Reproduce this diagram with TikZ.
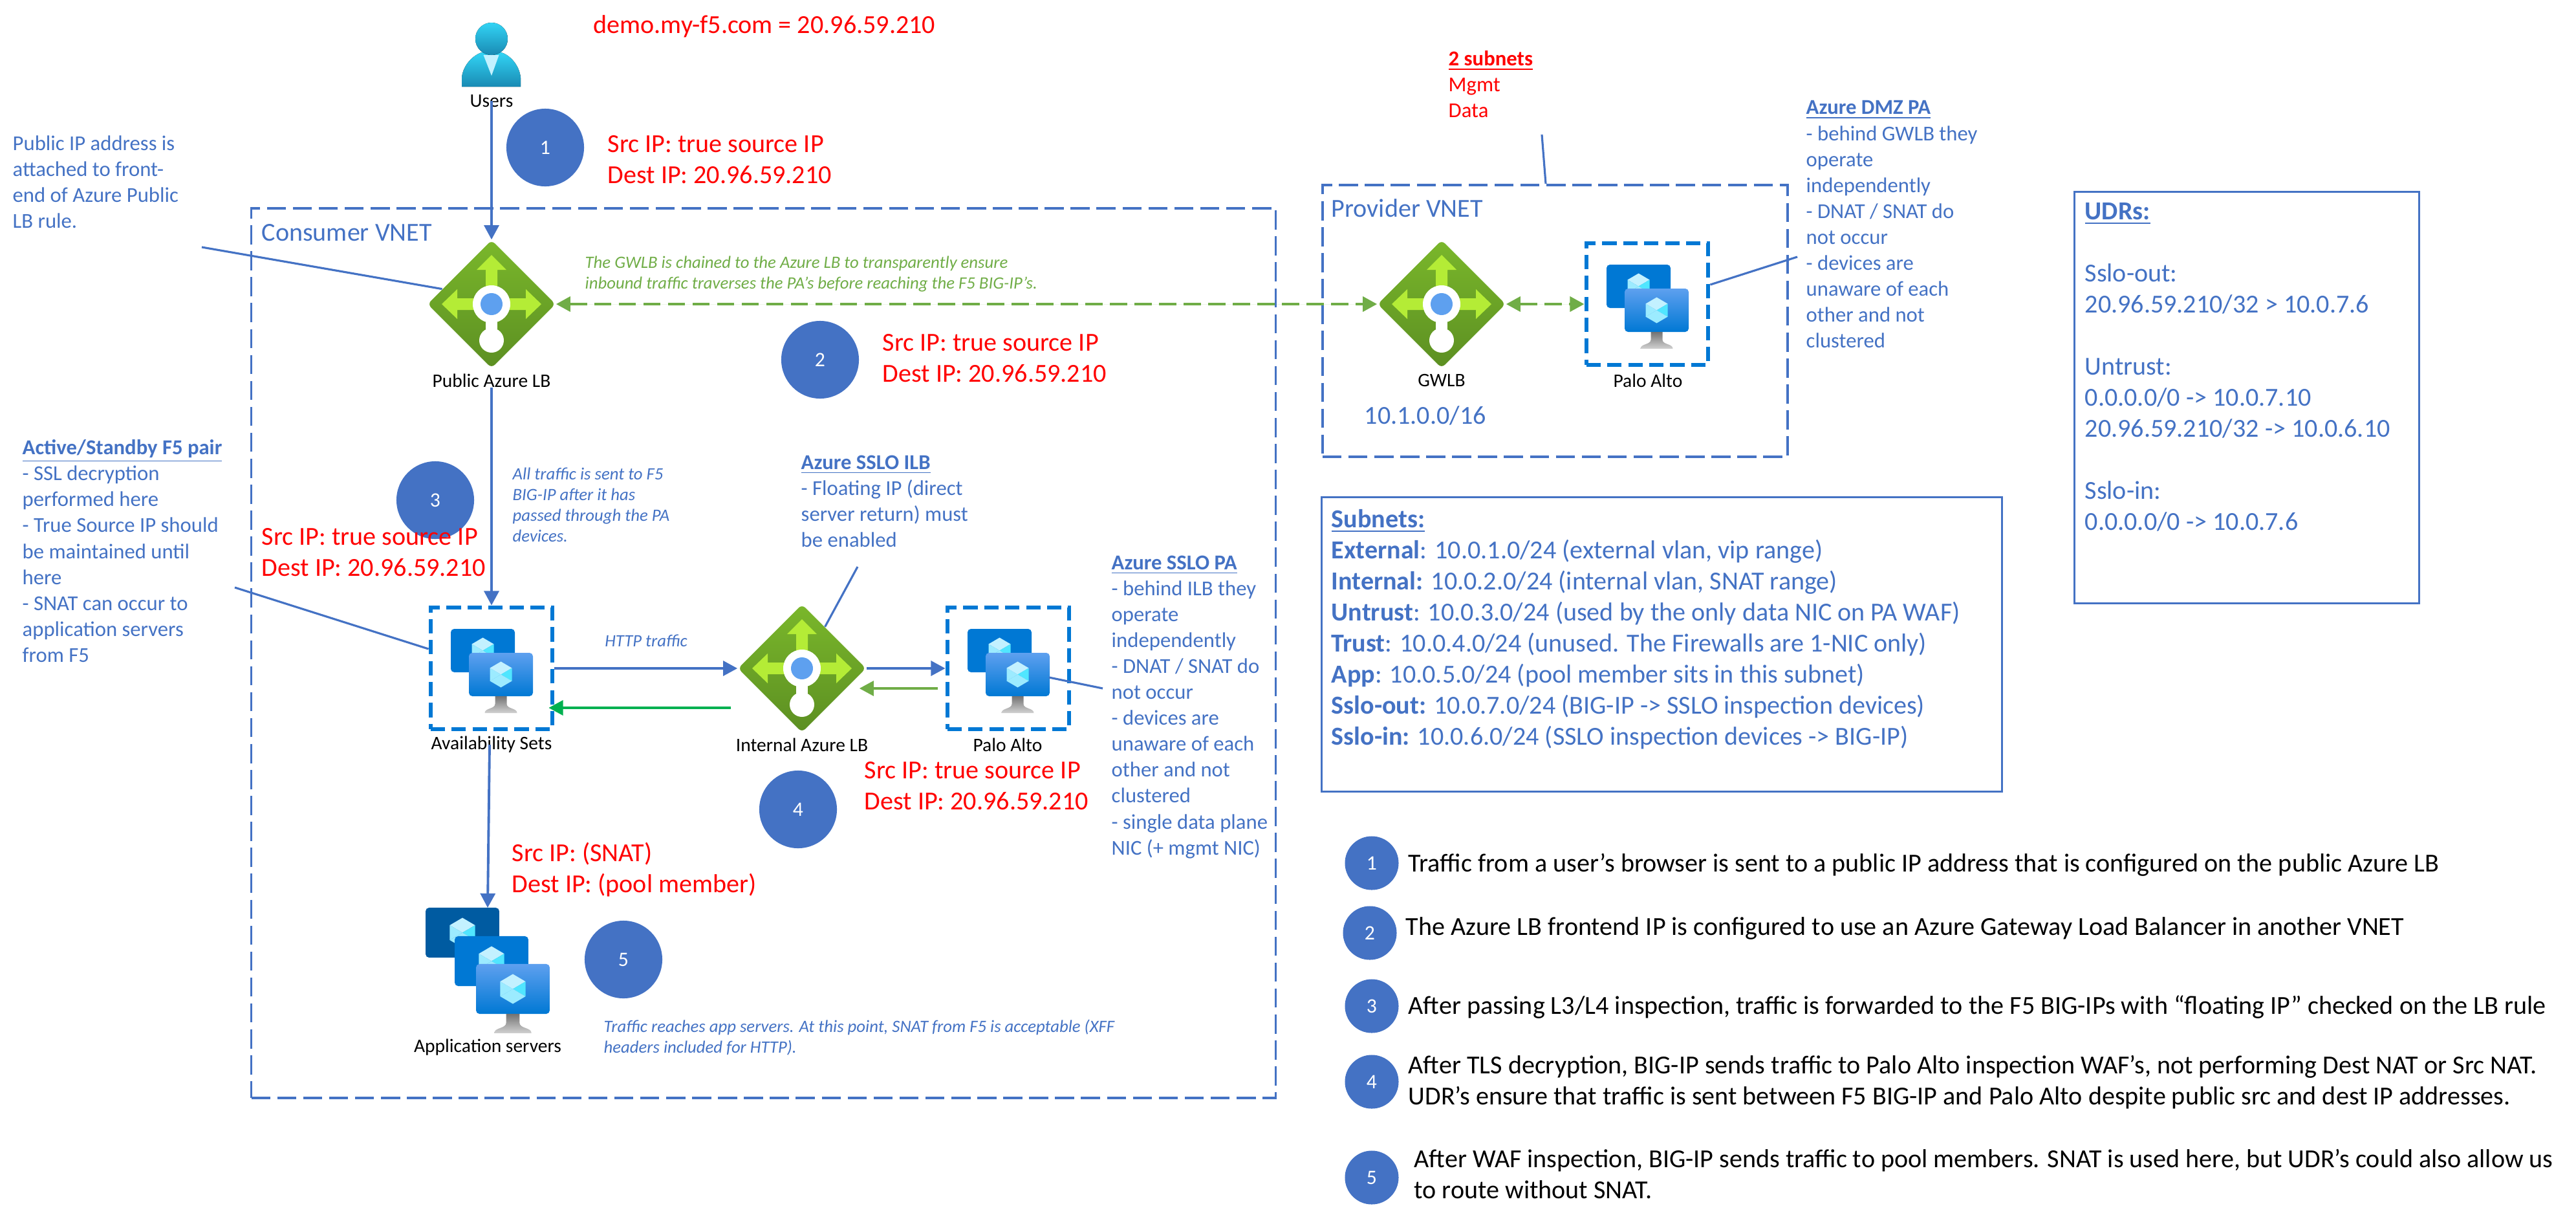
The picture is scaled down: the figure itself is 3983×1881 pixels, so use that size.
\documentclass[tikz,border=0pt]{standalone}
\usepackage{fontspec}
\setmainfont{Carlito}
\usetikzlibrary{arrows.meta,shapes.geometric}
\begin{document}
\begin{tikzpicture}[x=0.01cm,y=-0.01cm,>={Triangle[length=6.3pt,width=6.5pt]}]
  \definecolor{bar}{HTML}{4472C4}
  \definecolor{azure}{HTML}{0078D4}
  \definecolor{azuredeep}{HTML}{005BA1}
  \definecolor{azuresoft}{HTML}{5EA0EF}
  \definecolor{lbleaf}{HTML}{B4EC36}
  \definecolor{lbtop}{HTML}{7AB72B}
  \definecolor{lbbottom}{HTML}{5C8F22}
  \definecolor{leaf}{HTML}{70AD47}
  \definecolor{signal}{HTML}{00B050}
  \definecolor{gemlight}{HTML}{C3F1FF}
  \definecolor{gemmid}{HTML}{9CEBFF}
  \definecolor{gemdeep}{HTML}{50E6FF}
  \definecolor{usertop}{HTML}{32D4F5}
  \definecolor{userbottom}{HTML}{198AB3}
  \tikzset{
    bigfont/.style={font=\fontsize{11.4}{13.65}\selectfont},
    notefont/.style={font=\fontsize{9.3}{11.4}\selectfont},
    tinyfont/.style={font=\fontsize{7.6}{9.1}\selectfont\itshape},
    plaintext/.style={anchor=north west,inner sep=0pt,align=left,execute at begin node=\strut},
    redtext/.style={plaintext,bigfont,text=red},
    legendtext/.style={plaintext,bigfont,text=black},
    bluetext/.style={plaintext,bigfont,text=bar},
    notetext/.style={plaintext,notefont,text=bar},
    italictext/.style={plaintext,tinyfont,text=bar},
    iconlabel/.style={inner sep=0pt,font=\fontsize{8.4}{10}\selectfont,text=black},
    vnetbox/.style={draw=bar,line width=1.1pt,dash pattern=on 8.4pt off 3pt},
    vmbox/.style={draw=azure,line width=1.9pt,dash pattern=on 6.3pt off 2.9pt,minimum width=1.88cm,minimum height=1.88cm,inner sep=0pt},
    infobox/.style={draw=bar,line width=0.9pt,inner sep=0pt},
    lbshape/.style={diamond,aspect=1,inner sep=0pt,minimum width=1.98cm,minimum height=1.98cm,rounded corners=2pt,top color=lbtop,bottom color=lbbottom},
    stepdot/.style={circle,fill=bar,text=white,inner sep=0pt,minimum size=1.2cm,font=\fontsize{9}{11}\selectfont},
    legenddot/.style={stepdot,minimum size=0.83cm},
    calloutline/.style={draw=bar,line width=0.9pt},
    flow/.style={->,draw=bar,fill=bar,line width=1.1pt},
    backflow/.style={->,draw=leaf,fill=leaf,line width=1.1pt},
    gwlink/.style={<->,draw=leaf,fill=leaf,line width=1.3pt,dash pattern=on 7.6pt off 3.2pt},
    lbglyph/.pic={
      \fill[lbleaf] (-9,0) -- (-9,-53) -- (-23,-53) -- (0,-76) -- (23,-53) -- (9,-53) -- (9,0) -- cycle;
      \fill[lbleaf] (0,-9) -- (53,-9) -- (53,-23) -- (77,0) -- (53,23) -- (53,9) -- (0,9) -- cycle;
      \fill[lbleaf] (0,-9) -- (-53,-9) -- (-53,-23) -- (-77,0) -- (-53,23) -- (-53,9) -- (0,9) -- cycle;
      \fill[white] (0,0) circle[radius=29];
      \fill[white] (-9,0) rectangle (9,45);
      \fill[white] (0,56) circle[radius=19];
      \fill[azuresoft] (0,0) circle[radius=17];
    },
    vmscreen/.pic={
      \path[rounded corners=1.5pt,pic actions] (-49.5,-33.5) rectangle (49.5,33.5);
      \fill[gemlight] (0,-20) -- (17,-10) -- (0,0) -- (-17,-10) -- cycle;
      \fill[gemdeep] (17,-10) -- (17,10) -- (0,0) -- cycle;
      \fill[gemmid] (-17,-10) -- (-17,10) -- (0,0) -- cycle;
      \fill[gemmid] (-17,10) -- (0,20) -- (17,10) -- (0,0) -- cycle;
    },
    vmstand/.pic={
      \shade[top color=black!55,bottom color=black!18] (-9,0) -- (9,0) -- (9,12) .. controls (9,20) and (25,18) .. (25,26) -- (-25,26) .. controls (-25,18) and (-9,20) .. (-9,12) -- cycle;
    },
    vmpair/.pic={
      \pic[fill=azure] at (-13.5,-27.5) {vmscreen};
      \pic[top color=azuresoft,bottom color=azure] at (14.5,9.5) {vmscreen};
      \pic at (14.5,43) {vmstand};
    }
  }
  \useasboundingbox (0,0) rectangle (3983,1881);

  \node[vnetbox,minimum width=15.83cm,minimum height=13.75cm] (consumer) at (1180.5,1009.5) {};
  \node[vnetbox,minimum width=7.19cm,minimum height=4.2cm] (provider) at (2404.5,496) {};
  \node[bluetext] (consumerlabel) at (404,338) {Consumer VNET};
  \node[bluetext] (providerlabel) at (2058,301) {Provider VNET};
  \node[bluetext] (gwlbcidr) at (2109,621) {10.1.0.0/16};

  % users
  \fill[top color=usertop,bottom color=userbottom] (714,134) -- (714,120) .. controls (716,100) and (732,85) .. (745,81) -- (775,81) .. controls (788,85) and (803,100) .. (805,120) -- (805,134) -- cycle;
  \fill[gemlight] (747.5,85) -- (771.5,85) -- (760,117) -- cycle;
  \fill[top color=usertop,bottom color=userbottom] (760,60) circle[radius=25];
  \node[iconlabel] (userslabel) at (760,156) {Users};

  \node[lbshape] (publiclb) at (760,470) {};
  \pic at (publiclb) {lbglyph};
  \node[iconlabel] (publiclabel) at (760,588) {Public Azure LB};

  \node[vmbox] (availbox) at (760,1033) {};
  \pic at (availbox) {vmpair};
  \node[iconlabel] (availlabel) at (760,1151) {Availability Sets};

  \node[lbshape] (ilb) at (1240,1033) {};
  \pic at (ilb) {lbglyph};
  \node[iconlabel] (ilblabel) at (1240,1151) {Internal Azure LB};

  \node[vmbox] (sslopa) at (1559,1033) {};
  \pic at (sslopa) {vmpair};
  \node[iconlabel] (sslopalabel) at (1558,1151) {Palo Alto};

  \node[lbshape] (gwlb) at (2229,470) {};
  \pic at (gwlb) {lbglyph};
  \node[iconlabel] (gwlblabel) at (2229,588) {GWLB};

  \node[vmbox] (dmzpa) at (2547,470) {};
  \pic at (dmzpa) {vmpair};
  \node[iconlabel] (dmzpalabel) at (2548,588) {Palo Alto};

  % app servers
  \pic[scale=1.15,fill=azuredeep] at (715,1441.5) {vmscreen};
  \pic[scale=1.15,fill=azure] at (760,1485.5) {vmscreen};
  \pic[scale=1.15,top color=azuresoft,bottom color=azure] at (793,1528.5) {vmscreen};
  \pic[scale=1.15] at (793,1567) {vmstand};
  \coordinate (appstop) at (754,1403);
  \node[iconlabel] (applabel) at (754,1619) {Application servers};

  \draw[flow] (userslabel.center) -- (publiclb.north);
  \draw[flow] (publiclabel.south) -- (availbox.north);
  \draw[flow] ([shift={(-3,0)}]availlabel.center) -- (appstop);
  \draw[flow] (availbox.east) -- (ilb.west);
  \draw[flow] (ilb.east) -- (sslopa.west);
  \draw[backflow] ([shift={(-12,31)}]sslopa.west) -- ([shift={(-11,31)}]ilb.east);
  \draw[backflow,draw=signal] ([shift={(-10,61)}]ilb.west) -- ([shift={(-9,61)}]availbox.east);
  \draw[gwlink] (publiclb.east) -- (gwlb.west);
  \draw[gwlink] (gwlb.east) -- (dmzpa.west);

  \coordinate (publicipend) at (312,382);
  \coordinate (availend) at (363,908);
  \coordinate (ilbend) at (1326,876);
  \coordinate (sslopaend) at (1705,1064);
  \coordinate (dmzend) at (2779,397);
  \coordinate (subnetend) at (2384,208);
  \draw[calloutline] (publicipend) -- (publiclb.163);
  \draw[calloutline] (availend) -- ([shift={(0,-30)}]availbox.west);
  \draw[calloutline] (ilbend) -- (ilb.61);
  \draw[calloutline] (sslopaend) -- ([shift={(63,14)}]sslopa.center);
  \draw[calloutline] (dmzend) -- ([shift={(0,-30)}]dmzpa.east);
  \draw[calloutline] (subnetend) -- ([shift={(-14.5,0)}]provider.north);

  \node[stepdot] (stepone) at (843,228) {1};
  \node[stepdot] (steptwo) at (1268,556) {2};
  \node[stepdot] (stepthree) at (673,773) {3};
  \node[stepdot] (stepfour) at (1234,1251) {4};
  \node[stepdot] (stepfive) at (964,1483) {5};

  \node[redtext] (demotext) at (917,17) {demo.my-f5.com = 20.96.59.210};
  \node[redtext] (redone) at (939,209) {Src IP: true source IP\\Dest IP: 20.96.59.210};
  \node[redtext] (redtwo) at (1364,516) {Src IP: true source IP\\Dest IP: 20.96.59.210};
  \node[redtext] (redthree) at (404,816) {Src IP: true source IP\\Dest IP: 20.96.59.210};
  \node[redtext] (redfour) at (1336,1177) {Src IP: true source IP\\Dest IP: 20.96.59.210};
  \node[redtext] (redfive) at (791,1301) {Src IP: (SNAT)\\Dest IP: (pool member)};
  \node[plaintext,notefont,text=red] (subnettext) at (2239,78) {\underline{\textbf{2 subnets}}\\Mgmt\\Data};

  \node[notetext] (publicnote) at (19,209) {Public IP address is\\attached to front-\\end of Azure Public\\LB rule.};
  \node[notetext] (availnote) at (34,679) {\underline{\textbf{Active/Standby F5 pair}}\\- SSL decryption\\performed here\\- True Source IP should\\be maintained until\\here\\- SNAT can occur to\\application servers\\from F5};
  \node[notetext] (ilbnote) at (1238,703) {\underline{\textbf{Azure SSLO ILB}}\\- Floating IP (direct\\server return) must\\be enabled};
  \node[notetext] (sslopanote) at (1718,858) {\underline{\textbf{Azure SSLO PA}}\\- behind ILB they\\operate\\independently\\- DNAT / SNAT do\\not occur\\- devices are\\unaware of each\\other and not\\clustered\\- single data plane\\NIC (+ mgmt NIC)};
  \node[notetext] (dmznote) at (2792,155) {\underline{\textbf{Azure DMZ PA}}\\- behind GWLB they\\operate\\independently\\- DNAT / SNAT do\\not occur\\- devices are\\unaware of each\\other and not\\clustered};

  \node[plaintext,tinyfont,text=leaf] (gwlbnote) at (904,395) {The GWLB is chained to the Azure LB to transparently ensure\\inbound traffic traverses the PA’s before reaching the F5 BIG-IP’s.};
  \node[italictext] (trafficnote) at (792,722) {All traffic is sent to F5\\BIG-IP after it has\\passed through the PA\\devices.};
  \node[italictext,anchor=center] (httpnote) at (999,993) {HTTP traffic};
  \node[italictext] (appnote) at (933,1575) {Traffic reaches app servers. At this point, SNAT from F5 is acceptable (XFF\\headers included for HTTP).};

  \node[infobox,minimum width=10.51cm,minimum height=4.54cm] (subnetbox) at (2569.5,996) {};
  \node[bluetext] (subnetlist) at (2058,787) {\underline{\textbf{Subnets:}}\\\textbf{External}: 10.0.1.0/24 (external vlan, vip range)\\\textbf{Internal:} 10.0.2.0/24 (internal vlan, SNAT range)\\\textbf{Untrust}: 10.0.3.0/24 (used by the only data NIC on PA WAF)\\\textbf{Trust}: 10.0.4.0/24 (unused. The Firewalls are 1-NIC only)\\\textbf{App}: 10.0.5.0/24 (pool member sits in this subnet)\\\textbf{Sslo-out:} 10.0.7.0/24 (BIG-IP -> SSLO inspection devices)\\\textbf{Sslo-in:} 10.0.6.0/24 (SSLO inspection devices -> BIG-IP)};

  \node[infobox,minimum width=5.32cm,minimum height=6.35cm] (udrbox) at (3474,614.5) {};
  \node[bluetext] (udrlist) at (3223,313) {\underline{\textbf{UDRs:}}\\[\baselineskip]Sslo-out:\\20.96.59.210/32 > 10.0.7.6\\[\baselineskip]Untrust:\\0.0.0.0/0 -> 10.0.7.10\\20.96.59.210/32 -> 10.0.6.10\\[\baselineskip]Sslo-in:\\0.0.0.0/0 -> 10.0.7.6};

  \node[legenddot] (legendone) at (2121,1334) {1};
  \node[legenddot] (legendtwo) at (2118,1442) {2};
  \node[legenddot] (legendthree) at (2121,1555) {3};
  \node[legenddot] (legendfour) at (2121,1672) {4};
  \node[legenddot] (legendfive) at (2121,1820) {5};
  \node[legendtext] (legendonetext) at (2177,1313) {Traffic from a user’s browser is sent to a public IP address that is configured on the public Azure LB};
  \node[legendtext] (legendtwotext) at (2173,1411) {The Azure LB frontend IP is configured to use an Azure Gateway Load Balancer in another VNET};
  \node[legendtext] (legendthreetext) at (2177,1533) {After passing L3/L4 inspection, traffic is forwarded to the F5 BIG-IPs with “floating IP” checked on the LB rule};
  \node[legendtext] (legendfourtext) at (2177,1631) {After TLS decryption, BIG-IP sends traffic to Palo Alto inspection WAF’s, not performing Dest NAT or Src NAT.\\UDR’s ensure that traffic is sent between F5 BIG-IP and Palo Alto despite public src and dest IP addresses.};
  \node[legendtext] (legendfivetext) at (2186,1776) {After WAF inspection, BIG-IP sends traffic to pool members. SNAT is used here, but UDR’s could also allow us\\to route without SNAT.};
\end{tikzpicture}
\end{document}
